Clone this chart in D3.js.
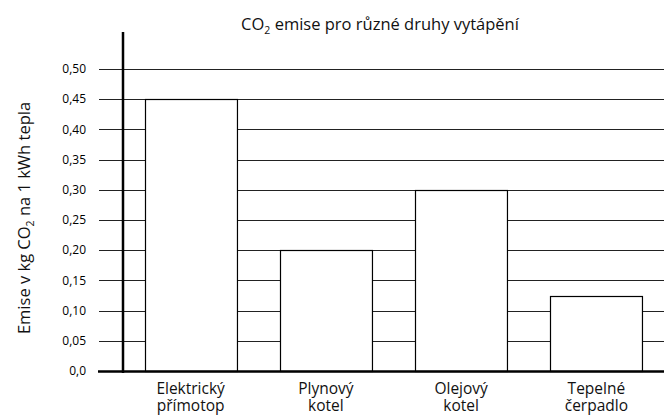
<!DOCTYPE html>
<html>
<head>
<meta charset="utf-8">
<script src="https://cdn.jsdelivr.net/npm/d3@7"></script>
<style>
  body { margin: 0; background: #fff; }
  text { font-family: "Open Sans", "Noto Sans", sans-serif; fill: #111; }
</style>
</head>
<body>
<svg id="chart" width="664" height="418"></svg>
<script>
// data
const categories = [["Elektrický", "přímotop"], ["Plynový", "kotel"], ["Olejový", "kotel"], ["Tepelné", "čerpadlo"]];
const values = [0.45, 0.20, 0.30, 0.125];
const ticks = [0, 0.05, 0.10, 0.15, 0.20, 0.25, 0.30, 0.35, 0.40, 0.45, 0.50];
const tickLabels = ["0,0", "0,05", "0,10", "0,15", "0,20", "0,25", "0,30", "0,35", "0,40", "0,45", "0,50"];

const svg = d3.select("#chart");
const axisX = 123, gridLeft = 99, plotRight = 664;
const plotTop = 32, plotBottom = 371;

const x = d3.scaleBand()
    .domain(categories.map((d, i) => i))
    .range([axisX, plotRight])
    .paddingInner(0.32)
    .paddingOuter(0.16);
const y = d3.scaleLinear().domain([0, 0.5]).range([plotBottom, 69]);

// gridlines
svg.append("g").selectAll("line")
    .data(ticks.slice(1))
    .enter().append("line")
    .attr("x1", gridLeft).attr("x2", plotRight)
    .attr("y1", d => Math.round(y(d)) + 0.5)
    .attr("y2", d => Math.round(y(d)) + 0.5)
    .attr("stroke", "#222")
    .attr("stroke-width", 1);

// tick labels
svg.append("g").selectAll("text")
    .data(ticks)
    .enter().append("text")
    .attr("x", 86)
    .attr("y", d => y(d))
    .attr("dy", "0.35em")
    .attr("text-anchor", "end")
    .style("font-size", "12px")
    .style("fill", "#000")
    .text((d, i) => tickLabels[i]);

// bars
svg.append("g").selectAll("rect")
    .data(values)
    .enter().append("rect")
    .attr("x", (d, i) => Math.round(x(i)) + 0.5)
    .attr("y", d => Math.round(y(d)) + 0.5)
    .attr("width", x.bandwidth())
    .attr("height", d => plotBottom - Math.round(y(d)))
    .attr("fill", "#fff")
    .attr("stroke", "#000")
    .attr("stroke-width", 1.2);

// axes
svg.append("line")
    .attr("x1", axisX).attr("x2", axisX)
    .attr("y1", plotTop).attr("y2", plotBottom + 2)
    .attr("stroke", "#000").attr("stroke-width", 2.5);
svg.append("line")
    .attr("x1", 98).attr("x2", plotRight)
    .attr("y1", plotBottom + 0.5).attr("y2", plotBottom + 0.5)
    .attr("stroke", "#000").attr("stroke-width", 2.5);

// category labels, two lines each
const labels = svg.append("g").selectAll("g")
    .data(categories)
    .enter().append("g")
    .attr("transform", (d, i) => `translate(${x(i) + x.bandwidth() / 2},0)`);
labels.append("text")
    .attr("y", 394)
    .attr("text-anchor", "middle")
    .style("font-size", "15.5px")
    .text(d => d[0]);
labels.append("text")
    .attr("y", 411)
    .attr("text-anchor", "middle")
    .style("font-size", "15.5px")
    .text(d => d[1]);

// title
const title = svg.append("text")
    .attr("x", 380).attr("y", 30)
    .attr("text-anchor", "middle")
    .style("font-size", "16.5px");
title.append("tspan").text("CO");
title.append("tspan").attr("dy", 4).style("font-size", "10.5px").text("2");
title.append("tspan").attr("dy", -4).text(" emise pro různé druhy vytápění");

// y label
const ylab = svg.append("text")
    .attr("transform", "translate(30,218) rotate(-90)")
    .attr("text-anchor", "middle")
    .style("font-size", "16.5px");
ylab.append("tspan").text("Emise v kg CO");
ylab.append("tspan").attr("dy", 4).style("font-size", "10.5px").text("2");
ylab.append("tspan").attr("dy", -4).text(" na 1 kWh tepla");
</script>
</body>
</html>
